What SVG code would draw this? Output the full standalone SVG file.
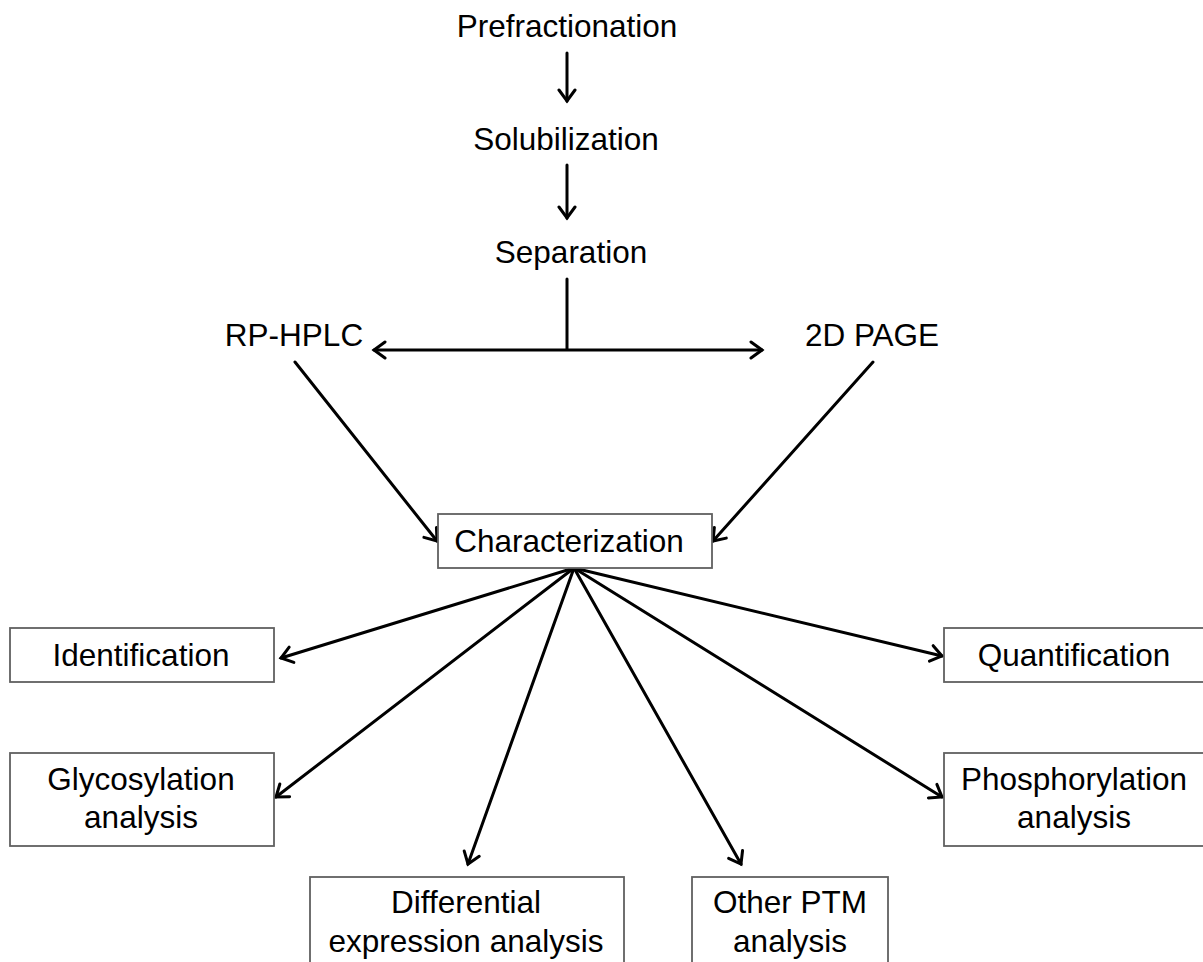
<svg xmlns="http://www.w3.org/2000/svg" width="1203" height="962" viewBox="0 0 1203 962">
<style>
text{font-family:"Liberation Sans",Arial,sans-serif;font-size:31.5px;fill:#000;text-anchor:middle}
.box{fill:#fff;stroke:#606060;stroke-width:1.8}
.c{stroke:#000;stroke-width:3;fill:none;stroke-linecap:round}
</style>
<defs>
<marker id="ah" viewBox="-16 -10 20 20" markerWidth="20" markerHeight="20" refX="0" refY="0" orient="auto-start-reverse" markerUnits="userSpaceOnUse">
<path d="M-11,-8 L0,0 L-11,8" fill="none" stroke="#000" stroke-width="3" stroke-linecap="round" stroke-linejoin="miter"/>
</marker>
</defs>
<rect width="1203" height="962" fill="#fff"/>
<g id="connectors">
<line class="c" x1="567" y1="53" x2="567" y2="101" marker-end="url(#ah)"/>
<line class="c" x1="567" y1="165" x2="567" y2="218" marker-end="url(#ah)"/>
<line class="c" x1="567" y1="279" x2="567" y2="349"/>
<line class="c" x1="374" y1="350" x2="762" y2="350" marker-start="url(#ah)" marker-end="url(#ah)"/>
<line class="c" x1="295" y1="362" x2="437" y2="541" marker-end="url(#ah)"/>
<line class="c" x1="873" y1="362" x2="713" y2="541" marker-end="url(#ah)"/>
<line class="c" x1="574" y1="568" x2="281" y2="658" marker-end="url(#ah)"/>
<line class="c" x1="574" y1="568" x2="276" y2="797" marker-end="url(#ah)"/>
<line class="c" x1="574" y1="568" x2="468" y2="864" marker-end="url(#ah)"/>
<line class="c" x1="574" y1="568" x2="741" y2="864" marker-end="url(#ah)"/>
<line class="c" x1="574" y1="568" x2="942" y2="797" marker-end="url(#ah)"/>
<line class="c" x1="574" y1="568" x2="942" y2="656" marker-end="url(#ah)"/>
</g>
<g id="prefractionation"><text x="567" y="37">Prefractionation</text></g>
<g id="solubilization"><text x="566" y="150">Solubilization</text></g>
<g id="separation"><text x="571" y="263">Separation</text></g>
<g id="rp-hplc"><text x="294" y="346">RP-HPLC</text></g>
<g id="page2d"><text x="872" y="346">2D PAGE</text></g>
<g id="characterization"><rect class="box" x="438" y="514" width="274" height="54"/><text x="569" y="552">Characterization</text></g>
<g id="identification"><rect class="box" x="10" y="628" width="264" height="54"/><text x="141" y="666">Identification</text></g>
<g id="quantification"><rect class="box" x="944" y="628" width="262" height="54"/><text x="1074" y="666">Quantification</text></g>
<g id="glycosylation"><rect class="box" x="10" y="753" width="264" height="93"/><text x="141" y="790">Glycosylation</text><text x="141" y="828">analysis</text></g>
<g id="phosphorylation"><rect class="box" x="944" y="753" width="262" height="93"/><text x="1074" y="790">Phosphorylation</text><text x="1074" y="828">analysis</text></g>
<g id="differential"><rect class="box" x="310" y="877" width="314" height="95"/><text x="466" y="913">Differential</text><text x="466" y="952">expression analysis</text></g>
<g id="otherptm"><rect class="box" x="692" y="877" width="196" height="95"/><text x="790" y="913">Other PTM</text><text x="790" y="952">analysis</text></g>
</svg>
